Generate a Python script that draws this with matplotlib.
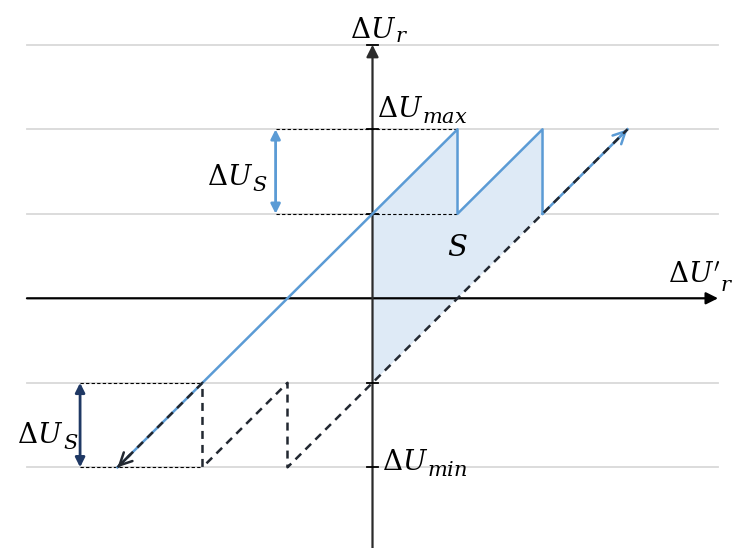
import matplotlib
matplotlib.use("Agg")
import matplotlib.pyplot as plt
from matplotlib.patches import Polygon

plt.rcParams["mathtext.fontset"] = "dejavuserif"

# niveles de las lineas guia horizontales
niveles_guia = [3, 2, 1, -1, -2]

# curva azul: subida desde la flecha inferior hasta el primer pico y dientes de sierra
azul_x = [-3, 1, 1, 2, 2]
azul_y = [-2, 2, 1, 2, 1]
# tramo final hacia la flecha superior
final_x = [2, 3]
final_y = [1, 2]

# linea discontinua negra (diente de sierra inferior y recta y = x - 1)
disc_x = [-3, -2, -2, -1, -1, 3]
disc_y = [-2, -1, -2, -1, -2, 2]

# zona rellena
relleno_x = [0, 1, 1, 2, 2, 0]
relleno_y = [1, 2, 1, 2, 1, -1]

# guias punteadas finas
guia_sup_x = [-1.14, 1.0]
guia_sup_y = [2, 1]
guia_inf_x = [-3.44, -2.0]
guia_inf_y = [-1, -2]

azul = "#5b9bd5"
marino = "#1f3864"
negro = "#222831"

fig = plt.figure(figsize=(7.36, 5.48), dpi=100)
ax = fig.add_axes([0, 0, 1, 1])
ax.set_xlim(-4.382, 4.276)
ax.set_ylim(-2.955, 3.530)
ax.axis("off")

# lineas grises
for nivel in niveles_guia:
    ax.plot([-4.065, 4.065], [nivel, nivel], color="#d9d9d9", lw=1.3, zorder=1)

# relleno
ax.add_patch(Polygon(list(zip(relleno_x, relleno_y)), closed=True,
                     facecolor="#deeaf6", edgecolor="none", zorder=2))

# ejes
ax.annotate("", xy=(4.065, 0), xytext=(-4.065, 0),
            arrowprops=dict(arrowstyle="-|>", color="black", lw=1.6,
                            mutation_scale=18, shrinkA=0, shrinkB=0), zorder=3)
ax.annotate("", xy=(0, 3.0), xytext=(0, -2.955),
            arrowprops=dict(arrowstyle="-|>", color="#2b2b2b", lw=1.6,
                            mutation_scale=18, shrinkA=0, shrinkB=0), zorder=3)
for nivel in niveles_guia:
    ax.plot([-0.07, 0.07], [nivel, nivel], color="black", lw=1.3, zorder=3)

# guias punteadas
for y in guia_sup_y:
    ax.plot(guia_sup_x, [y, y], color="black", lw=0.8, ls=(0, (3, 2)), zorder=3)
for y in guia_inf_y:
    ax.plot(guia_inf_x, [y, y], color="black", lw=0.8, ls=(0, (3, 2)), zorder=3)

# curva azul
ax.plot(azul_x, azul_y, color=azul, lw=1.8, zorder=4)
ax.plot(final_x, final_y, color=azul, lw=1.8, zorder=4)
punta = (final_x[1], final_y[1])
ax.annotate("", xy=punta, xytext=(punta[0] - 0.15, punta[1] - 0.15),
            arrowprops=dict(arrowstyle="->", color=azul, lw=1.8,
                            mutation_scale=22, shrinkA=0, shrinkB=0), zorder=4)

# linea discontinua
ax.plot(disc_x, disc_y, color=negro, lw=1.8, ls=(0, (3.2, 2.4)), zorder=5)
punta = (disc_x[0], disc_y[0])
ax.annotate("", xy=punta, xytext=(punta[0] + 0.15, punta[1] + 0.15),
            arrowprops=dict(arrowstyle="->", color=negro, lw=1.8,
                            mutation_scale=22, shrinkA=0, shrinkB=0), zorder=5)

# flechas dobles de DeltaU_S
ax.annotate("", xy=(guia_sup_x[0], 2), xytext=(guia_sup_x[0], 1),
            arrowprops=dict(arrowstyle="<|-|>", color=azul, lw=2.0,
                            mutation_scale=14, shrinkA=0, shrinkB=0), zorder=4)
ax.annotate("", xy=(guia_inf_x[0], -1), xytext=(guia_inf_x[0], -2),
            arrowprops=dict(arrowstyle="<|-|>", color=marino, lw=2.0,
                            mutation_scale=14, shrinkA=0, shrinkB=0), zorder=4)

renderer = fig.canvas.get_renderer()


# texto Delta U con subindice aparte, para poder darle mas tamaño
def etiqueta(x, y, sub, bajada, base=r"$\Delta U$", hueco=-0.5):
    t = ax.text(x, y, base, fontsize=20, ha="left", va="baseline", zorder=6)
    caja = t.get_window_extent(renderer)
    x_fin = ax.transData.inverted().transform((caja.x1, 0))[0]
    ax.annotate(sub, xy=(x_fin, y), xycoords="data", xytext=(hueco, -bajada),
                textcoords="offset points", fontsize=15, ha="left",
                va="baseline", zorder=6)


etiqueta(-0.265, 3.081, r"$r$", 3)
etiqueta(0.053, 2.144, r"$max$", 4.5)
etiqueta(-1.947, 1.341, r"$S$", 4)
etiqueta(3.476, 0.181, r"$r$", 6, base=r"$\Delta U'$")
etiqueta(-4.18, -1.712, r"$S$", 4)
etiqueta(0.11, -2.03, r"$min$", 4.5)
ax.text(1.0, 0.50, r"$S$", fontsize=21, ha="center", va="baseline")

fig.savefig("out.png", dpi=100)
